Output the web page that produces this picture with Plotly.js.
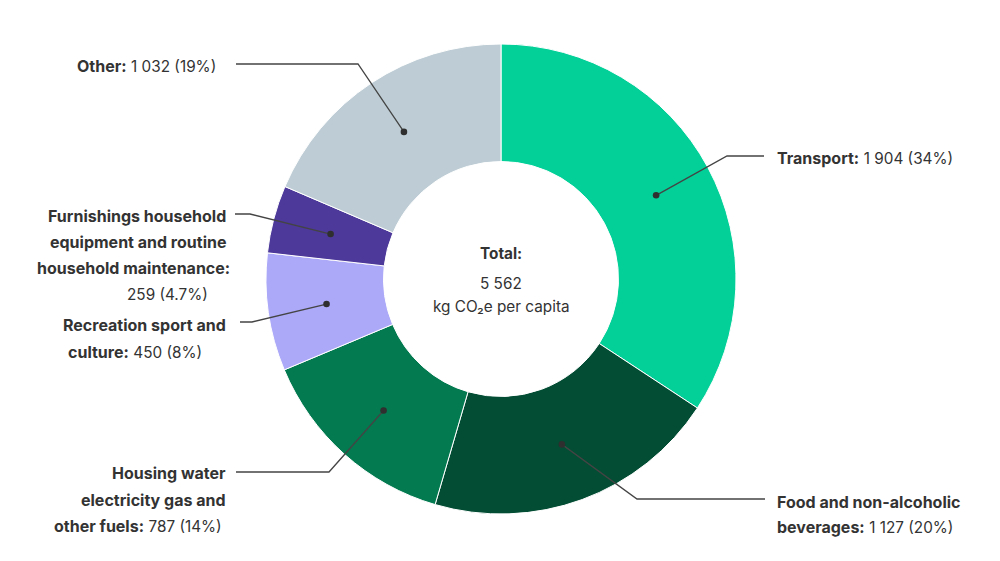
<!DOCTYPE html>
<html>
<head>
<meta charset="utf-8">
<script src="https://cdn.plot.ly/plotly-3.0.1.min.js"></script>
<style>html,body{margin:0;padding:0;background:#fff;}#chart{width:1000px;height:561px;}</style>
</head>
<body>
<div id="chart"></div>
<script>
// ---- data ----
const categories = ["Transport", "Food and non-alcoholic beverages", "Housing water electricity gas and other fuels", "Recreation sport and culture", "Furnishings household equipment and routine household maintenance", "Other"];
const values = [1904, 1127, 787, 450, 259, 1032];
const valueLabels = ["1 904", "1 127", "787", "450", "259", "1 032"];
const shares = ["34%", "20%", "14%", "8%", "4.7%", "19%"];
const totalLabel = "5 562";
const unitLabel = "kg CO\u2082e per capita";

// ---- style / layout ----
const colors = ["#02D098", "#024D33", "#037A50", "#ACA9F8", "#4C399A", "#BECDD5"];
const W = 1000, H = 561;
const cx = 501, cy = 279, R = 235;
const textColor = "#333333";
const FONT = "Inter, 'Noto Sans', sans-serif";
const FS = 16;
const FS_V = 15.3;
const FS_C = 15.3;

const labelSpec = [
  {lines: ["Transport:"], align: "left", xs: [775], ys: [158], elbow: [727, 156], end: [764, 156]},
  {lines: ["Food and non-alcoholic", "beverages:"], align: "left", xs: [775, 775], ys: [502, 527], elbow: [637, 499], end: [765, 499]},
  {lines: ["Housing water", "electricity gas and", "other fuels:"], align: "right", xs: [228, 228, 224], ys: [473, 500, 526], elbow: [329, 472], end: [236, 472]},
  {lines: ["Recreation sport and", "culture:"], align: "right", xs: [228, 204], ys: [325, 352], elbow: [252, 322], end: [240, 322]},
  {lines: ["Furnishings household", "equipment and routine", "household maintenance:"], align: "right", xs: [228, 228, 232, 210], ys: [216, 242, 268, 294], valueOwnLine: true, elbow: [250, 214], end: [235, 214]},
  {lines: ["Other:"], align: "right", xs: [218], ys: [66], elbow: [358, 64], end: [236, 64]}
];

const total = values.reduce((a, b) => a + b, 0);
const annotations = [];
const shapes = [];
let cum = 0;
values.forEach((v, i) => {
  const mid = (cum + v / 2) / total * 2 * Math.PI;
  cum += v;
  const dx = cx + 0.75 * R * Math.sin(mid);
  const dy = cy - 0.75 * R * Math.cos(mid);
  const s = labelSpec[i];
  shapes.push({type: "path", xref: "x", yref: "y", layer: "above",
    path: `M${dx},${dy} L${s.elbow[0]},${s.elbow[1]} L${s.end[0]},${s.end[1]}`,
    line: {color: "#444444", width: 1.3}});
  shapes.push({type: "circle", xref: "x", yref: "y", layer: "above",
    x0: dx - 3.3, x1: dx + 3.3, y0: dy - 3.3, y1: dy + 3.3,
    fillcolor: "#2f2f2f", line: {width: 0}});
  const valTxt = `<span style="font-size:${FS_V}px">${valueLabels[i]} (${shares[i]})</span>`;
  s.lines.forEach((ln, k) => {
    let txt = `<b>${ln}</b>`;
    if (k === s.lines.length - 1 && !s.valueOwnLine) txt += " " + valTxt;
    annotations.push({x: s.xs[k], y: s.ys[k], xref: "x", yref: "y", text: txt, showarrow: false,
      xanchor: s.align === "left" ? "left" : "right", yanchor: "middle",
      font: {family: FONT, size: FS, color: textColor}});
  });
  if (s.valueOwnLine) {
    const k = s.ys.length - 1;
    annotations.push({x: s.xs[k], y: s.ys[k], xref: "x", yref: "y", text: valTxt, showarrow: false,
      xanchor: "right", yanchor: "middle", font: {family: FONT, size: FS, color: textColor}});
  }
});

// centre text
annotations.push({x: cx, y: 253, xref: "x", yref: "y", text: "<b>Total:</b>", showarrow: false, yanchor: "middle", font: {family: FONT, size: FS_C, color: textColor}});
annotations.push({x: cx, y: 283, xref: "x", yref: "y", text: totalLabel, showarrow: false, yanchor: "middle", font: {family: FONT, size: FS_C, color: textColor}});
annotations.push({x: cx, y: 306, xref: "x", yref: "y", text: unitLabel, showarrow: false, yanchor: "middle", font: {family: FONT, size: FS_C, color: textColor}});

const pie = {
  type: "pie",
  labels: categories,
  values: values,
  sort: false,
  direction: "clockwise",
  rotation: 0,
  hole: 0.5,
  textinfo: "none",
  hoverinfo: "label+value+percent",
  marker: {colors: colors, line: {color: "#ffffff", width: 1}},
  domain: {x: [(cx - R) / W, (cx + R) / W], y: [(H - cy - R) / H, (H - cy + R) / H]},
  showlegend: false
};

const layout = {
  width: W, height: H,
  margin: {l: 0, r: 0, t: 0, b: 0},
  paper_bgcolor: "#ffffff", plot_bgcolor: "rgba(0,0,0,0)",
  xaxis: {range: [0, W], visible: false, fixedrange: true},
  yaxis: {range: [H, 0], visible: false, fixedrange: true},
  annotations: annotations,
  shapes: shapes,
  showlegend: false
};

Plotly.newPlot("chart", [pie], layout, {displayModeBar: false, staticPlot: true});
</script>
</body>
</html>
